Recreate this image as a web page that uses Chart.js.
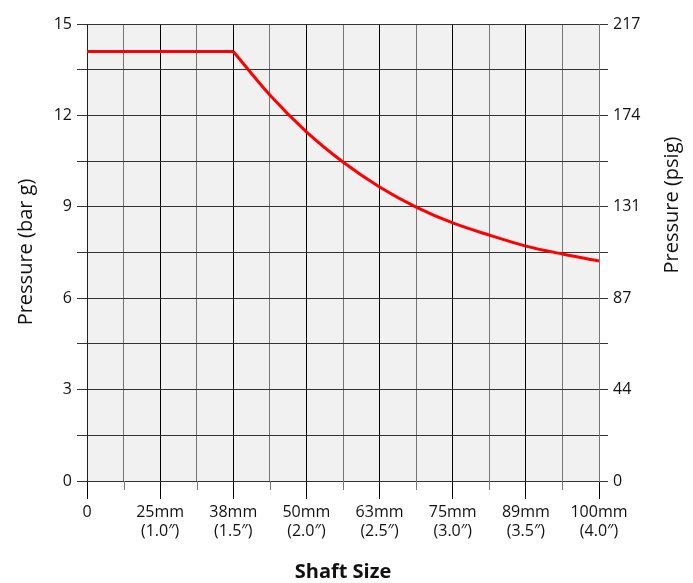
<!DOCTYPE html>
<html>
<head>
<meta charset="utf-8">
<script src="https://cdn.jsdelivr.net/npm/chart.js@4"></script>
<style>
  body { margin: 0; background: #fff; }
  #wrap { width: 693px; height: 583px; }
</style>
</head>
<body>
<div id="wrap"><canvas id="pressureChart" width="693" height="583"></canvas></div>
<script>
// categories on the x axis (one per whole step)
const shaftMm = ['0', '25mm', '38mm', '50mm', '63mm', '75mm', '89mm', '100mm'];
const shaftIn = ['', '(1.0\u2033)', '(1.5\u2033)', '(2.0\u2033)', '(2.5\u2033)', '(3.0\u2033)', '(3.5\u2033)', '(4.0\u2033)'];
// curve points, x in shaft-size steps
const shaftPos = [0, 2, 2.5, 3, 3.5, 4, 4.5, 5, 5.5, 6, 6.5, 7];
const pressureBar = [14.1, 14.1, 12.67, 11.46, 10.47, 9.65, 8.99, 8.47, 8.07, 7.71, 7.45, 7.22];
// axis tick labels
const barTicks = [0, 3, 6, 9, 12, 15];
const psigTicks = [0, 44, 87, 131, 174, 217];

const FONT = "'Open Sans', sans-serif";
const pts = shaftPos.map((s, i) => ({ x: s, y: pressureBar[i] }));

// fond gris, petits traits secondaires, titres des axes
const decor = {
  id: 'decor',
  beforeDraw(chart) {
    const { ctx, chartArea: a } = chart;
    ctx.save();
    ctx.fillStyle = '#f1f1f1';
    ctx.fillRect(a.left, a.top, a.right - a.left, a.bottom - a.top);
    ctx.restore();
  },
  afterDraw(chart) {
    const { ctx, chartArea: a } = chart;
    const x = chart.scales.x;
    ctx.save();
    ctx.strokeStyle = '#777';
    ctx.lineWidth = 1;
    for (let v = 0.5; v < 7; v += 1) {
      const px = Math.round(x.getPixelForValue(v)) + 0.5;
      ctx.beginPath();
      ctx.moveTo(px, a.bottom);
      ctx.lineTo(px, a.bottom + 9);
      ctx.stroke();
    }
    ctx.fillStyle = '#111';
    ctx.textAlign = 'center';
    ctx.textBaseline = 'middle';
    ctx.font = '20px ' + FONT;
    ctx.save();
    ctx.translate(26, 252);
    ctx.rotate(-Math.PI / 2);
    ctx.fillText('Pressure (bar g)', 0, 0);
    ctx.restore();
    ctx.save();
    ctx.translate(672, 205);
    ctx.rotate(-Math.PI / 2);
    ctx.fillText('Pressure (psig)', 0, 0);
    ctx.restore();
    ctx.font = 'bold 20px ' + FONT;
    ctx.fillText('Shaft Size', (a.left + a.right) / 2, 572);
    ctx.restore();
  }
};

// palier plat puis courbe, pour garder le coin net a 38mm
const lineStyle = {
  borderColor: '#ff0000',
  borderWidth: 3,
  pointRadius: 0,
  fill: false,
  yAxisID: 'y'
};

new Chart(document.getElementById('pressureChart'), {
  type: 'line',
  data: {
    datasets: [
      Object.assign({ data: pts.slice(0, 2), tension: 0 }, lineStyle),
      Object.assign({ data: pts.slice(1), cubicInterpolationMode: 'monotone' }, lineStyle)
    ]
  },
  options: {
    responsive: false,
    animation: false,
    layout: { padding: { top: 24, left: 0, right: 0, bottom: 0 } },
    plugins: { legend: { display: false }, tooltip: { enabled: false } },
    scales: {
      x: {
        type: 'linear',
        min: 0, max: 7,
        afterFit(s) { s.height = 102; },
        afterBuildTicks(s) {
          s.ticks = [];
          for (let v = 0; v <= 14; v++) s.ticks.push({ value: v / 2 });
        },
        grid: {
          color: c => (Number.isInteger(c.tick.value) ? '#000' : '#777'),
          tickColor: c => (Number.isInteger(c.tick.value) ? '#000' : 'transparent'),
          lineWidth: 1,
          tickLength: 18
        },
        border: { color: '#333' },
        ticks: {
          autoSkip: false,
          maxRotation: 0,
          padding: 4,
          color: '#111',
          font: { family: FONT, size: 16 },
          callback: v => {
            if (!Number.isInteger(v)) return '';
            return shaftIn[v] ? [shaftMm[v], shaftIn[v]] : shaftMm[v];
          }
        }
      },
      y: {
        position: 'left',
        min: 0, max: 15,
        afterFit(s) { s.width = 87; },
        afterBuildTicks(s) {
          s.ticks = [];
          for (let v = 0; v <= 10; v++) s.ticks.push({ value: v * 1.5 });
        },
        grid: { color: '#333', tickLength: 10, lineWidth: 1 },
        border: { color: '#222' },
        ticks: {
          padding: 5,
          color: '#111',
          font: { family: FONT, size: 16 },
          callback: v => (barTicks.includes(v) ? String(v) : '')
        }
      },
      y2: {
        position: 'right',
        min: 0, max: 15,
        afterFit(s) { s.width = 94; },
        afterBuildTicks(s) {
          s.ticks = [];
          for (let v = 0; v <= 10; v++) s.ticks.push({ value: v * 1.5 });
        },
        grid: { drawOnChartArea: false, color: '#333', tickLength: 9 },
        border: { color: '#777' },
        ticks: {
          padding: 5,
          color: '#111',
          font: { family: FONT, size: 16 },
          callback: v => {
            const i = barTicks.indexOf(v);
            return i >= 0 ? String(psigTicks[i]) : '';
          }
        }
      }
    }
  },
  plugins: [decor]
});
</script>
</body>
</html>
